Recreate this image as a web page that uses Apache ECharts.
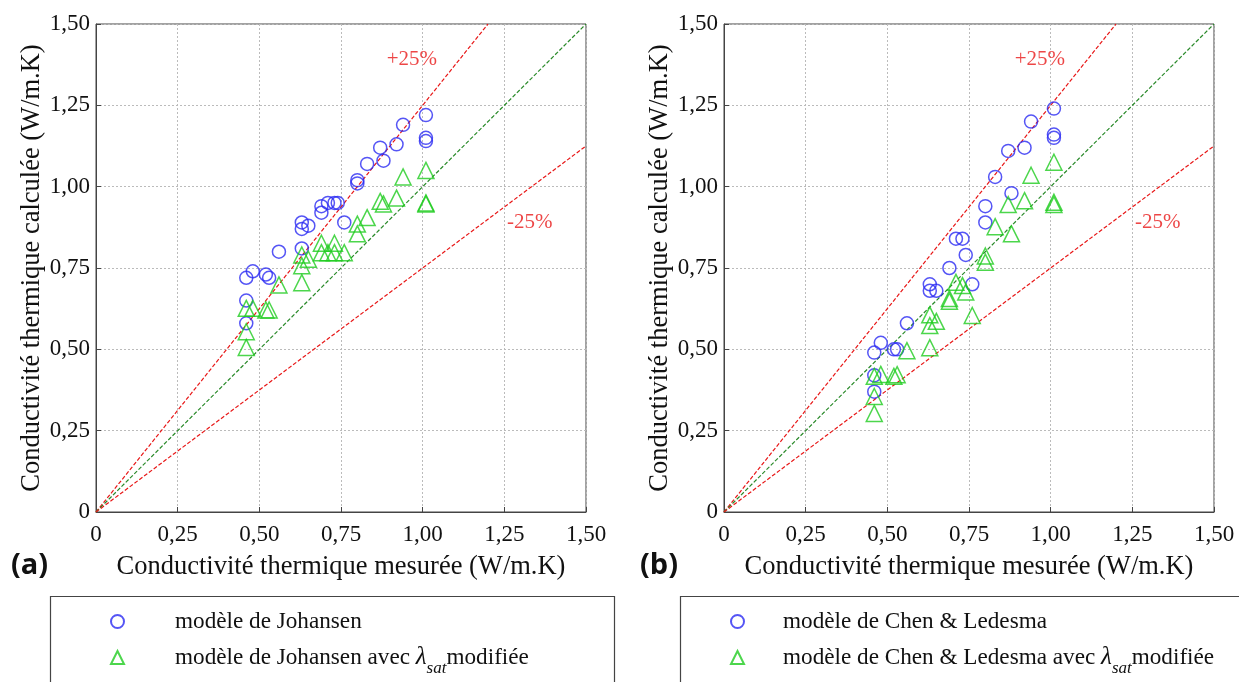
<!DOCTYPE html>
<html><head><meta charset="utf-8">
<script src="https://cdn.jsdelivr.net/npm/echarts@6/dist/echarts.min.js"></script>
<style>html,body{margin:0;padding:0;background:#fff}#c{width:1239px;height:682px}</style>
</head><body><div id="c"></div>
<script>
// ---- data ----
const tickLabels = ['0','0,25','0,50','0,75','1,00','1,25','1,50'];
const johansen = [[1.01,1.22],[1.01,1.15],[1.01,1.14],[0.94,1.19],[0.92,1.13],[0.87,1.12],[0.88,1.08],[0.83,1.07],[0.80,1.02],[0.80,1.01],[0.69,0.94],[0.69,0.92],[0.71,0.95],[0.73,0.95],[0.74,0.95],[0.76,0.89],[0.63,0.89],[0.63,0.87],[0.65,0.88],[0.63,0.81],[0.56,0.80],[0.48,0.74],[0.46,0.72],[0.52,0.73],[0.53,0.72],[0.46,0.65],[0.46,0.58]];
const johansenMod = [[1.01,1.05],[0.94,1.03],[1.01,0.95],[1.01,0.947],[0.92,0.965],[0.87,0.955],[0.88,0.947],[0.83,0.905],[0.80,0.885],[0.80,0.855],[0.69,0.826],[0.73,0.826],[0.69,0.797],[0.71,0.797],[0.73,0.797],[0.76,0.797],[0.63,0.79],[0.65,0.777],[0.63,0.757],[0.56,0.698],[0.63,0.705],[0.46,0.626],[0.48,0.626],[0.52,0.621],[0.53,0.621],[0.46,0.554],[0.46,0.506]];
const chen = [[1.01,1.24],[0.94,1.20],[1.01,1.16],[1.01,1.15],[0.87,1.11],[0.92,1.12],[0.83,1.03],[0.88,0.98],[0.80,0.94],[0.80,0.89],[0.71,0.84],[0.73,0.84],[0.74,0.79],[0.69,0.75],[0.76,0.70],[0.63,0.70],[0.63,0.68],[0.65,0.68],[0.56,0.58],[0.48,0.52],[0.46,0.49],[0.52,0.50],[0.53,0.50],[0.46,0.42],[0.46,0.37]];
const chenMod = [[1.01,1.075],[0.94,1.035],[1.01,0.952],[1.01,0.945],[0.92,0.957],[0.87,0.945],[0.83,0.877],[0.88,0.855],[0.80,0.787],[0.80,0.768],[0.71,0.706],[0.73,0.696],[0.74,0.676],[0.69,0.656],[0.69,0.648],[0.76,0.604],[0.63,0.606],[0.63,0.573],[0.65,0.586],[0.56,0.496],[0.63,0.505],[0.46,0.417],[0.48,0.423],[0.52,0.417],[0.53,0.422],[0.46,0.355],[0.46,0.303]];
const linePlus = [[0,0],[1.2,1.5]];
const lineEqual = [[0,0],[1.5,1.5]];
const lineMinus = [[0,0],[1.5,1.125]];
const plusLabelPos = [[0.967,1.39]];
const minusLabelPos = [[1.328,0.89]];
const names = ['modèle de Johansen','modèle de Johansen avec λsat modifiée','modèle de Chen & Ledesma','modèle de Chen & Ledesma avec λsat modifiée'];

const serif = '"Liberation Serif", "DejaVu Serif", serif';
const BLUE = '#2a2af2', GREEN = '#1fcc1f', RED = '#e81818', DGREEN = '#2a8a2a';

function xAxis(i){return {gridIndex:i,type:'value',min:0,max:1.5,interval:0.25,
  name:'Conductivité thermique mesurée (W/m.K)',nameLocation:'middle',nameGap:42,
  nameTextStyle:{fontFamily:serif,fontSize:26.5,color:'#111'},
  axisLine:{show:true,onZero:false,lineStyle:{color:'#444',width:1}},
  axisTick:{show:true,inside:true,length:5,lineStyle:{color:'#444'}},
  axisLabel:{fontFamily:serif,fontSize:23,color:'#111',margin:11,formatter:(v)=>tickLabels[Math.round(v/0.25)]},
  splitLine:{show:true,lineStyle:{color:'#bbb',type:[2,2],width:1}}};}
function yAxis(i){return {gridIndex:i,type:'value',min:0,max:1.5,interval:0.25,
  name:'Conductivité thermique calculée (W/m.K)',nameLocation:'middle',nameGap:50,
  nameTextStyle:{fontFamily:serif,fontSize:26.5,color:'#111'},
  axisLine:{show:true,onZero:false,lineStyle:{color:'#444',width:1}},
  axisTick:{show:true,inside:true,length:5,lineStyle:{color:'#444'}},
  axisLabel:{fontFamily:serif,fontSize:23,color:'#111',margin:6,formatter:(v)=>tickLabels[Math.round(v/0.25)]},
  splitLine:{show:true,lineStyle:{color:'#bbb',type:[2,2],width:1}}};}

function refLine(i,data,color){return {type:'line',xAxisIndex:i,yAxisIndex:i,data:data,symbol:'none',silent:true,
  lineStyle:{color:color,width:1.2,type:[4,2]},z:1};}
function ann(i,data,txt){return {type:'scatter',xAxisIndex:i,yAxisIndex:i,data:data,symbolSize:0,silent:true,
  label:{show:true,position:'inside',formatter:txt,fontFamily:serif,fontSize:21,color:RED}};}
function pts(i,name,data,sym,color,size){return {type:'scatter',name:name,xAxisIndex:i,yAxisIndex:i,data:data,
  symbol:sym,symbolSize:size,itemStyle:{color:'rgba(0,0,0,0)',borderColor:color,borderWidth:1.5},z:3};}

const rich = {n:{fontFamily:serif,fontSize:23.2,color:'#111'},
  l:{fontFamily:serif,fontSize:25,fontStyle:'italic',color:'#111'},
  s:{fontFamily:serif,fontSize:17,fontStyle:'italic',color:'#111',padding:[22,0,0,0]}};
function fmt(name){
  if(name.indexOf('λsat')>=0){const p=name.split('λsat');return '{n|'+p[0]+'}{l|λ}{s|sat}{n|'+p[1].trim()+'}';}
  return '{n|'+name+'}';
}
function legend(left,top,name,gap){return {left:left,top:top,orient:'horizontal',itemWidth:13,itemHeight:13,
  data:[name],formatter:fmt,textStyle:{padding:[0,0,0,gap],rich:rich},selectedMode:false};}

const chart = echarts.init(document.getElementById('c'));
chart.setOption({
  animation:false,
  title:[{text:'(a)',left:6,top:546,textStyle:{fontFamily:'"Open Sans", "Noto Sans", sans-serif',fontWeight:'bold',fontSize:29,color:'#111'}},
         {text:'(b)',left:635,top:546,textStyle:{fontFamily:'"Open Sans", "Noto Sans", sans-serif',fontWeight:'bold',fontSize:29,color:'#111'}}],
  grid:[{left:96,top:24,width:490,height:488,show:true,borderColor:'#444',borderWidth:1},
        {left:724,top:24,width:490,height:488,show:true,borderColor:'#444',borderWidth:1}],
  xAxis:[xAxis(0),xAxis(1)],
  yAxis:[yAxis(0),yAxis(1)],
  legend:[legend(105,605,names[0],46),legend(105,640,names[1],46),legend(725,605,names[2],34),legend(725,640,names[3],34)],
  graphic:[
    {type:'rect',shape:{x:50.5,y:596.5,width:564,height:100},style:{fill:'none',stroke:'#444',lineWidth:1.2},z:-1},
    {type:'rect',shape:{x:680.5,y:596.5,width:600,height:100},style:{fill:'none',stroke:'#444',lineWidth:1.2},z:-1}
  ],
  series:[
    refLine(0,linePlus,RED),refLine(0,lineEqual,DGREEN),refLine(0,lineMinus,RED),
    ann(0,plusLabelPos,'+25%'),ann(0,minusLabelPos,'-25%'),
    pts(0,names[0],johansen,'circle',BLUE,13),
    pts(0,names[1],johansenMod,'triangle',GREEN,16),
    refLine(1,linePlus,RED),refLine(1,lineEqual,DGREEN),refLine(1,lineMinus,RED),
    ann(1,plusLabelPos,'+25%'),ann(1,minusLabelPos,'-25%'),
    pts(1,names[2],chen,'circle',BLUE,13),
    pts(1,names[3],chenMod,'triangle',GREEN,16)
  ]
});
</script></body></html>
